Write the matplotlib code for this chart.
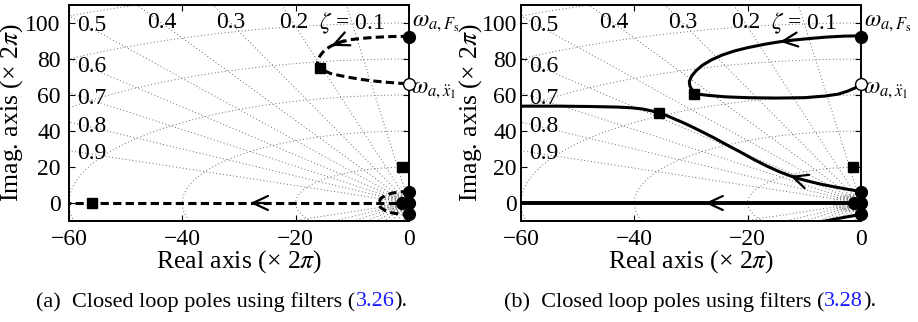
import matplotlib
matplotlib.use("Agg")
import matplotlib.pyplot as plt
import numpy as np

plt.rcParams["font.family"] = ["Liberation Serif", "DejaVu Serif"]
plt.rcParams["mathtext.fontset"] = "stix"

# ---------------- data (units of 2*pi rad/s) ----------------
x_ticks = [-60, -40, -20, 0]
y_ticks = [0, 20, 40, 60, 80, 100]

zeta_values = [0.1, 0.2, 0.3, 0.4, 0.5, 0.6, 0.7, 0.8, 0.9]
wn_values = [1.5, 2, 2.5, 3, 3.5, 4, 4.5, 5, 20, 40, 60, 80, 100, 120]

# open-loop poles (filled circles) and zero (open circle), same in both panels
pole_x = [0, 0, 0, 0, -1.3]
pole_y = [92.3, 6.3, -6.3, 0, 0]
zero_x = [0]
zero_y = [66]

# (a) filters (3.26): dashed loci
a_upper_x = [0, -3, -6.3, -8.5, -10.4, -12.2, -13.7, -14.6, -15.2, -15.7, -16.0, -16.2,
             -15.7, -14.9, -13.9, -12.2, -10.4, -8.3, -6.3, -4.0, -1.6, 0]
a_upper_y = [92.6, 92.5, 92.0, 91.4, 90.7, 89.3, 87.3, 85.6, 83.8, 81.8, 79.9, 77.5,
             75.2, 73.5, 72.0, 70.8, 69.7, 68.6, 67.8, 67.1, 66.5, 66.3]
a_loop_x = [0, -1.5, -3.0, -4.2, -5.0, -5.3, -5.0, -4.2, -3.0, -1.5, 0]
a_loop_y = [6.3, 6.2, 5.5, 4.2, 2.5, 0.0, -2.5, -4.2, -5.5, -6.2, -6.3]
a_real_x = [0, -60]
a_real_y = [0, 0]
a_square_x = [-15.7, -1.2, -56.0]
a_square_y = [75.2, 20.1, 0]
a_arrows = [((-11.5, 90.3), (-13.7, 87.3)), ((-25.5, 0), (-28.0, 0))]

# (b) filters (3.28): solid loci
b_upper_x = [0, -3, -6, -9, -12, -14.3, -17, -20, -22.3, -24.5, -26.4, -28, -29.1,
             -29.9, -30.3, -30.2, -29.8, -29.4, -27, -24, -20, -15, -10, -6.4, -4,
             -2.3, -1, 0]
b_upper_y = [92.9, 92.7, 92.2, 91.4, 90.5, 89.6, 88.2, 86.3, 84.5, 82.2, 79.5, 76.5,
             73.5, 70.5, 67.5, 65, 62.8, 60.7, 59.8, 59.0, 58.5, 58.3, 58.5, 59.4,
             60.5, 62.2, 64.0, 66.0]
b_mid_x = [0, -1, -2.5, -4.9, -7, -9, -11, -12.5, -14.5, -16.6, -18.8, -21.1, -23.5,
           -26, -28.2, -30, -31.5, -33, -34.4, -35.6, -37, -38.5, -40.5, -43, -47.6,
           -53, -60]
b_mid_y = [6.3, 6.9, 7.7, 9.1, 10.4, 11.9, 13.5, 15.1, 17.5, 20.5, 24.0, 28.0, 32.0,
           36.3, 39.8, 42.6, 44.8, 46.8, 48.7, 50.1, 51.2, 52.2, 52.9, 53.3, 53.6,
           53.8, 53.8]
b_real_x = [0, -60]
b_real_y = [0, 0]
b_square_x = [-29.4, -35.6, -1.5]
b_square_y = [60.7, 50.1, 20.1]
b_arrows = [((-12.0, 90.5), (-14.3, 89.6)), ((-11.0, 13.5), (-12.5, 15.1)),
            ((-25.0, 0), (-27.5, 0))]

XLIM = (-60, 0)
YLIM = (-10, 110)
TICK_FS = 17
LABEL_FS = 18.5
ZETA_FS = 17
GRID_KW = dict(color="0.42", lw=0.7, ls=(0, (1, 2.5)), zorder=1)


def draw_sgrid(ax):
    r = np.array([0.0, 400.0])
    for z in zeta_values:
        s = np.sqrt(1 - z ** 2)
        ax.plot(-r * z, r * s, **GRID_KW)
        ax.plot(-r * z, -r * s, **GRID_KW)
    th = np.linspace(np.pi / 2, 3 * np.pi / 2, 600)
    for w in wn_values:
        ax.plot(w * np.cos(th), w * np.sin(th), **GRID_KW)
    # damping-ratio labels
    for z in zeta_values:
        slope = np.sqrt(1 - z ** 2) / z
        if z <= 0.45:
            txt = r"$\zeta$ = 0.1" if z == 0.1 else f"{z:.1f}"
            ax.text(-100 / slope, 100, txt, ha="center", va="center",
                    fontsize=ZETA_FS, zorder=2)
        else:
            ax.text(-58.5, 57 * slope, f"{z:.1f}", ha="left", va="center",
                    fontsize=ZETA_FS, zorder=2)


def style_axes(ax, ypad, ylabel_x):
    ax.set_xlim(*XLIM)
    ax.set_ylim(*YLIM)
    ax.set_xticks(x_ticks)
    ax.set_yticks(y_ticks)
    ax.tick_params(direction="in", length=4, width=0.8, top=True, right=True,
                   labelsize=TICK_FS)
    ax.tick_params(axis="x", pad=6)
    ax.tick_params(axis="y", pad=ypad)
    for sp in ax.spines.values():
        sp.set_linewidth(1.4)
    ax.set_xlabel(r"Real axis (× 2$\pi$)", fontsize=LABEL_FS, labelpad=-1.5)
    ax.set_ylabel(r"Imag. axis (× 2$\pi$)", fontsize=LABEL_FS)
    ax.yaxis.set_label_coords(ylabel_x, 0.5)


def draw_markers(ax, sq_x, sq_y):
    ax.plot(sq_x, sq_y, "s", color="black", ms=7, zorder=5, clip_on=False)
    ax.plot(pole_x, pole_y, "o", color="black", ms=8.5, zorder=6, clip_on=False)
    ax.plot(zero_x, zero_y, "o", mfc="white", mec="black", mew=1.0, ms=8.5,
            zorder=6, clip_on=False)
    ax.text(0.5, 99.5, r"$\omega_{a,F_{\mathrm{s}}}$", fontsize=TICK_FS,
            ha="left", va="center", clip_on=False)
    ax.text(0.4, 62.5, r"$\omega_{a,\ddot{x}_1}$", fontsize=TICK_FS,
            ha="left", va="center", clip_on=False)


def draw_arrows(ax, arrows):
    for tail, tip in arrows:
        ax.annotate("", xy=tip, xytext=tail,
                    arrowprops=dict(arrowstyle="->,head_length=0.6,head_width=0.28",
                                    lw=1.6, color="black", shrinkA=0, shrinkB=0,
                                    mutation_scale=18), zorder=4)


fig = plt.figure(figsize=(9.18, 3.22), dpi=100)
axA = fig.add_axes([69 / 918, 101 / 322, 340 / 918, 216 / 322])
axB = fig.add_axes([521 / 918, 101 / 322, 340 / 918, 216 / 322])

DASH = dict(color="black", lw=2.2, ls=(0, (2.7, 1.4)), zorder=3)
SOLID = dict(color="black", lw=2.2, zorder=3, solid_capstyle="butt",
             solid_joinstyle="round")

# panel (a)
draw_sgrid(axA)
axA.plot(a_upper_x, a_upper_y, **DASH)
axA.plot(a_loop_x, a_loop_y, **DASH)
axA.plot(a_real_x, a_real_y, **DASH)
draw_arrows(axA, a_arrows)
draw_markers(axA, a_square_x, a_square_y)
style_axes(axA, ypad=6, ylabel_x=-0.128)

# panel (b)
draw_sgrid(axB)
axB.plot(b_upper_x, b_upper_y, **SOLID)
axB.plot(b_mid_x, b_mid_y, **SOLID)
axB.plot(b_mid_x, [-v for v in b_mid_y], **SOLID)
axB.plot(b_real_x, b_real_y, color="black", lw=2.8, zorder=3)
draw_arrows(axB, b_arrows)
draw_markers(axB, b_square_x, b_square_y)
style_axes(axB, ypad=3, ylabel_x=-0.11)


def caption(x_center, y, parts, fs=16):
    """Write a caption made of differently coloured pieces, centred at x_center."""
    fig.canvas.draw()
    r = fig.canvas.get_renderer()
    items = [fig.text(0, y, t, color=c, fontsize=fs, va="center") for t, c in parts]
    widths = [it.get_window_extent(r).width for it in items]
    total = sum(widths)
    x = x_center * fig.bbox.width - total / 2
    for it, w in zip(items, widths):
        it.set_x(x / fig.bbox.width)
        x += w


link = "#1a1aff"
caption(222 / 918, 20 / 322, [("(a)  Closed loop poles using filters (", "black"),
                              ("3.26", link), (").", "black")])
caption(690 / 918, 20 / 322, [("(b)  Closed loop poles using filters (", "black"),
                              ("3.28", link), (").", "black")])

fig.savefig("out.png", dpi=100)
